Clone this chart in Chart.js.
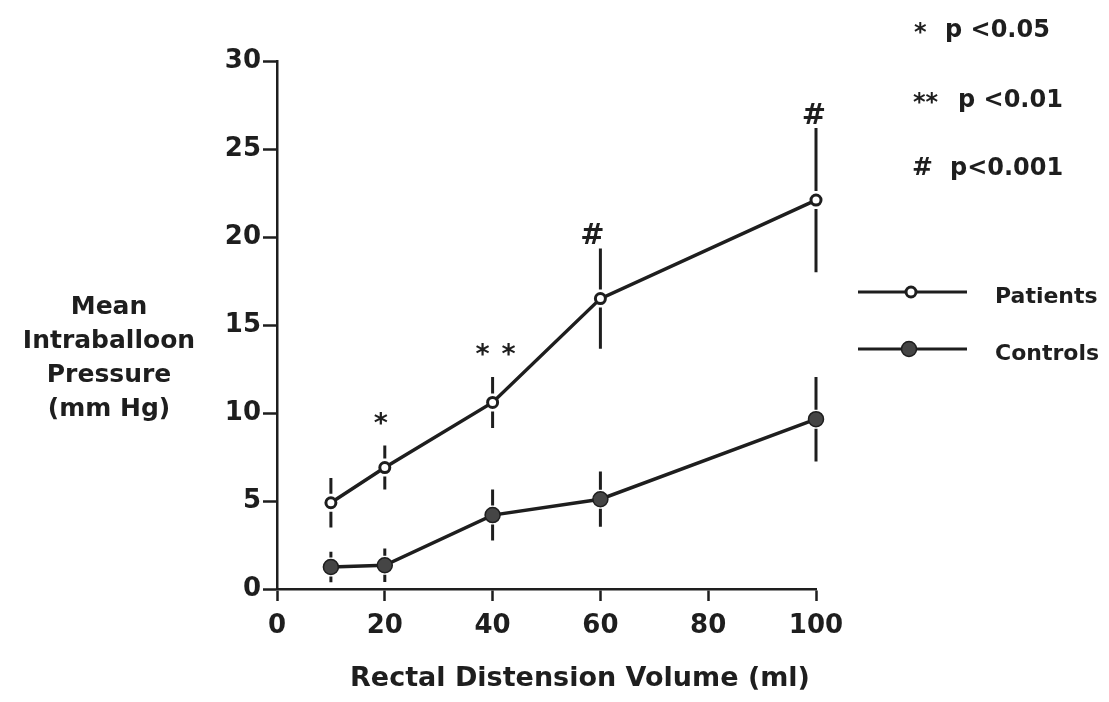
<!DOCTYPE html>
<html>
<head>
<meta charset="utf-8">
<title>Mean Intraballoon Pressure vs Rectal Distension Volume</title>
<script src="https://cdn.jsdelivr.net/npm/chart.js@4/dist/chart.umd.min.js"></script>
<style>
  html, body { margin: 0; padding: 0; background: #fff; }
  #wrap { width: 1109px; height: 702px; }
</style>
</head>
<body>
<div id="wrap"><canvas id="chart" width="1109" height="702"></canvas></div>
<script>
// Rectal distension volumes (ml)
const volumes = [10, 20, 40, 60, 100];

// Mean intraballoon pressure (mm Hg) and SEM for each group
const patientsMean = [4.9, 6.9, 10.6, 16.5, 22.1];
const patientsErr  = [1.4, 1.25, 1.45, 2.85, 4.1];
const controlsMean = [1.25, 1.35, 4.2, 5.1, 9.65];
const controlsErr  = [0.87, 0.95, 1.45, 1.57, 2.4];

// Significance marks above the patients' bars
const sigMarks = ['', '*', '**', '#', '#'];

// Axis ticks
const xTicks = [0, 20, 40, 60, 80, 100];
const yTicks = [0, 5, 10, 15, 20, 25, 30];

// Key texts
const seriesNames = ['Patients', 'Controls'];
const pValueKey = [['*', 'p <0.05'], ['**', 'p <0.01'], ['#', 'p<0.001']];

const INK = '#1e1e1e';
const FONT = "'DejaVu Sans', sans-serif";

const toPoints = (xs, ys) => xs.map((x, i) => ({ x: x, y: ys[i] }));

// Vertical error bars with a small gap around each marker
const errorBars = {
  id: 'errorBars',
  afterDatasetsDraw(chart) {
    const ctx = chart.ctx;
    const yScale = chart.scales.y;
    chart.data.datasets.forEach((ds, di) => {
      const meta = chart.getDatasetMeta(di);
      const gap = ds.barGap;
      ctx.save();
      ctx.strokeStyle = INK;
      ctx.lineWidth = 3;
      meta.data.forEach((pt, i) => {
        const m = ds.means[i], e = ds.errors[i];
        const top = yScale.getPixelForValue(m + e);
        const bot = yScale.getPixelForValue(m - e);
        ctx.beginPath();
        ctx.moveTo(pt.x, top);
        ctx.lineTo(pt.x, pt.y - gap);
        ctx.moveTo(pt.x, pt.y + gap);
        ctx.lineTo(pt.x, bot);
        ctx.stroke();
      });
      ctx.restore();
    });
  }
};

// Draw a glyph so that its ink bottom sits at y
function textAtBottom(ctx, text, x, y) {
  const m = ctx.measureText(text);
  ctx.fillText(text, x, y - m.actualBoundingBoxDescent);
}

// Titles, significance marks and keys
const decorations = {
  id: 'decorations',
  afterDraw(chart, args, opts) {
    const ctx = chart.ctx;
    const xs = chart.scales.x, ys = chart.scales.y;
    ctx.save();
    ctx.fillStyle = INK;
    ctx.textBaseline = 'alphabetic';

    // y-axis title (horizontal, stacked)
    ctx.font = 'bold 25px ' + FONT;
    ctx.textAlign = 'center';
    ['Mean', 'Intraballoon', 'Pressure', '(mm Hg)'].forEach((t, i) => {
      ctx.fillText(t, 109, 314 + i * 34);
    });

    // x-axis title
    ctx.font = 'bold 27px ' + FONT;
    ctx.fillText('Rectal Distension Volume (ml)', 580, 686);

    // significance marks above the patients' upper error bars
    const nudge = opts.nudge;
    sigMarks.forEach((mark, i) => {
      if (!mark) return;
      const px = xs.getPixelForValue(volumes[i]) + nudge[i];
      const top = ys.getPixelForValue(patientsMean[i] + patientsErr[i]);
      ctx.textAlign = 'center';
      if (mark[0] === '*') {
        ctx.font = 'bold 27px ' + FONT;
        const n = mark.length;
        for (let k = 0; k < n; k++) {
          const sx = px + (k - (n - 1) / 2) * 26;
          textAtBottom(ctx, '*', sx, top - 21);
        }
      } else {
        ctx.font = 'bold 29px ' + FONT;
        textAtBottom(ctx, mark, px, top - 4);
      }
    });

    // p-value key
    ctx.textAlign = 'left';
    const keyRows = [
      { sx: 914, px: 945, base: 37 },
      { sx: 913, px: 958, base: 107 },
      { sx: 912, px: 950, base: 175 }
    ];
    pValueKey.forEach((row, i) => {
      const r = keyRows[i];
      if (row[0] === '#') {
        ctx.font = 'bold 25px ' + FONT;
        ctx.fillText(row[0], r.sx, r.base);
      } else {
        ctx.font = 'bold 24px ' + FONT;
        ctx.fillText(row[0], r.sx, r.base + 3);
      }
      ctx.font = 'bold 24px ' + FONT;
      ctx.fillText(row[1], r.px, r.base);
    });

    // series key
    const keys = [
      { y: 292, mx: 911, label: seriesNames[0], ds: chart.data.datasets[0] },
      { y: 349, mx: 909, label: seriesNames[1], ds: chart.data.datasets[1] }
    ];
    keys.forEach(k => {
      ctx.strokeStyle = INK;
      ctx.lineWidth = 3;
      ctx.beginPath();
      ctx.moveTo(858, k.y);
      ctx.lineTo(967, k.y);
      ctx.stroke();
      ctx.beginPath();
      ctx.arc(k.mx, k.y, k.ds.pointRadius, 0, Math.PI * 2);
      ctx.fillStyle = k.ds.pointBackgroundColor;
      ctx.fill();
      ctx.lineWidth = k.ds.pointBorderWidth;
      ctx.strokeStyle = k.ds.pointBorderColor;
      ctx.stroke();
      ctx.fillStyle = INK;
      ctx.font = 'bold 22px ' + FONT;
      ctx.fillText(k.label, 995, k.y + 11);
    });
    ctx.restore();
  }
};

new Chart(document.getElementById('chart'), {
  type: 'line',
  data: {
    datasets: [
      {
        label: seriesNames[0],
        data: toPoints(volumes, patientsMean),
        means: patientsMean,
        errors: patientsErr,
        barGap: 9,
        borderColor: INK,
        borderWidth: 3.5,
        pointRadius: 5,
        pointBorderWidth: 3,
        pointBackgroundColor: '#fff',
        pointBorderColor: INK,
        tension: 0,
        clip: false
      },
      {
        label: seriesNames[1],
        data: toPoints(volumes, controlsMean),
        means: controlsMean,
        errors: controlsErr,
        barGap: 9.5,
        borderColor: INK,
        borderWidth: 3.5,
        pointRadius: 7.5,
        pointBorderWidth: 1.5,
        pointBackgroundColor: '#454545',
        pointBorderColor: INK,
        tension: 0,
        clip: false
      }
    ]
  },
  options: {
    responsive: false,
    animation: false,
    events: [],
    layout: { padding: { top: 61, right: 293, bottom: 0, left: 0 } },
    plugins: {
      legend: { display: false },
      tooltip: { enabled: false },
      decorations: { nudge: [0, -4, 3, -8, -2] }
    },
    scales: {
      x: {
        type: 'linear',
        min: 0,
        max: 100,
        afterFit: s => { s.height = 113; },
        afterBuildTicks: s => { s.ticks = xTicks.map(v => ({ value: v })); },
        ticks: {
          color: INK,
          padding: 10,
          font: { family: FONT, size: 26, weight: 'bold' }
        },
        grid: {
          drawOnChartArea: false,
          drawTicks: true,
          tickLength: 12,
          tickWidth: 2.5,
          tickColor: INK
        },
        border: { display: true, color: INK, width: 2.5 }
      },
      y: {
        type: 'linear',
        min: 0,
        max: 30,
        afterFit: s => { s.width = 277; },
        afterBuildTicks: s => { s.ticks = yTicks.map(v => ({ value: v })); },
        ticks: {
          color: INK,
          padding: 2,
          font: { family: FONT, size: 26, weight: 'bold' }
        },
        grid: {
          drawOnChartArea: false,
          drawTicks: true,
          tickLength: 14,
          tickWidth: 2.5,
          tickColor: INK
        },
        border: { display: true, color: INK, width: 2.5 }
      }
    }
  },
  plugins: [errorBars, decorations]
});
</script>
</body>
</html>
